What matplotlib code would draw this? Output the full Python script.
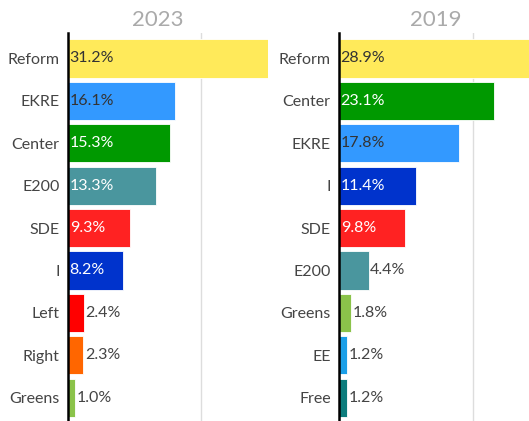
import matplotlib
matplotlib.use("Agg")
import matplotlib.pyplot as plt

plt.rcParams['font.family'] = ['Lato', 'DejaVu Sans']

parties_2023 = ['Reform', 'EKRE', 'Center', 'E200', 'SDE', 'I', 'Left', 'Right', 'Greens']
votes_2023 = [31.2, 16.1, 15.3, 13.3, 9.3, 8.2, 2.4, 2.3, 1.0]
colors_2023 = ['#FFEA5A', '#3399FF', '#009900', '#4A969E', '#FF2222', '#0033CC',
               '#FF0000', '#FF6600', '#8BC34A']

parties_2019 = ['Reform', 'Center', 'EKRE', 'I', 'SDE', 'E200', 'Greens', 'EE', 'Free']
votes_2019 = [28.9, 23.1, 17.8, 11.4, 9.8, 4.4, 1.8, 1.2, 1.2]
colors_2019 = ['#FFEA5A', '#009900', '#3399FF', '#0033CC', '#FF2222', '#4A969E',
               '#8BC34A', '#1A9FE8', '#0C7C7C']

light = {'#FFEA5A', '#3399FF'}


def draw_panel(ax, names, vals, cols, title, xmax, title_x):
    y = list(range(len(names)))
    ax.barh(y, vals, height=0.9, color=cols, edgecolor='white', linewidth=0.6, zorder=2)
    for yi, v, c in zip(y, vals, cols):
        if v >= 8:
            tc = '#333333' if c in light else 'white'
            ax.text(0.25, yi, f'{v:.1f}%', va='center', ha='left', fontsize=11.5, color=tc, zorder=3)
        else:
            ax.text(v + 0.25, yi, f'{v:.1f}%', va='center', ha='left', fontsize=11.5, color='#444444', zorder=3)
    ax.set_xlim(0, xmax)
    ax.set_ylim(len(names) - 0.45, -0.6)
    ax.set_yticks(y)
    ax.set_yticklabels(names, fontsize=11.5, color='#444444')
    ax.tick_params(axis='y', length=0, pad=6)
    ax.set_xticks([20])
    ax.tick_params(axis='x', length=0, labelbottom=False)
    ax.grid(axis='x', color='#dddddd', linewidth=1, zorder=0)
    for s in ['top', 'right', 'bottom']:
        ax.spines[s].set_visible(False)
    ax.spines['left'].set_color('black')
    ax.spines['left'].set_linewidth(1.8)
    ax.spines['left'].set_zorder(4)
    ax.set_title(title, fontsize=16, color='#aaaaaa', x=title_x, pad=5)


fig = plt.figure(figsize=(5.29, 4.21), dpi=100)
ax1 = fig.add_axes([68 / 529, 0, 200 / 529, 388 / 421])
ax2 = fig.add_axes([339 / 529, 0, 190 / 529, 388 / 421])

draw_panel(ax1, parties_2023, votes_2023, colors_2023, '2023', 30.07, 0.45)
draw_panel(ax2, parties_2019, votes_2019, colors_2019, '2019', 28.3, 0.51)

fig.savefig('out.png', dpi=100)
